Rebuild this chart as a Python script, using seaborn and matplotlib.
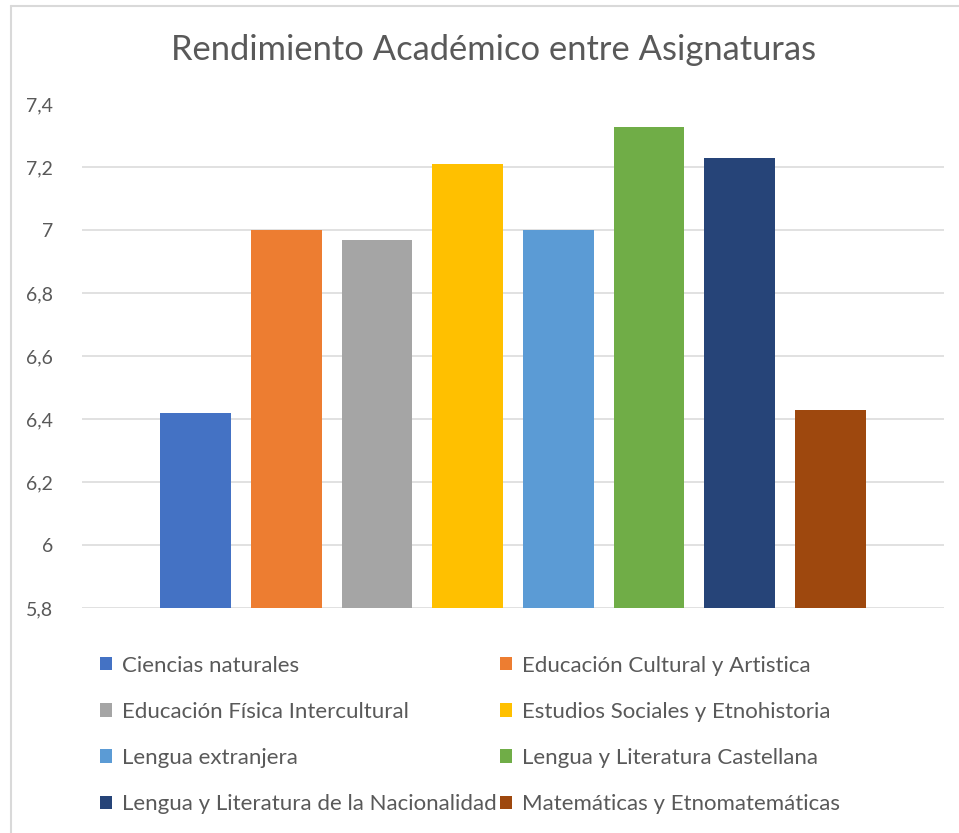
import matplotlib
matplotlib.use("Agg")
import matplotlib.pyplot as plt
from matplotlib.lines import Line2D
import seaborn as sns
import pandas as pd

categories = [
    "Ciencias naturales",
    "Educación Cultural y Artistica",
    "Educación Física Intercultural",
    "Estudios Sociales y Etnohistoria",
    "Lengua extranjera",
    "Lengua y Literatura Castellana",
    "Lengua y Literatura de la Nacionalidad",
    "Matemáticas y Etnomatemáticas",
]
values = [6.42, 7.00, 6.97, 7.21, 7.00, 7.33, 7.23, 6.43]
colors = ["#4472C4", "#ED7D31", "#A5A5A5", "#FFC000",
          "#5B9BD5", "#70AD47", "#264478", "#9E480E"]
yticks = [5.8, 6.0, 6.2, 6.4, 6.6, 6.8, 7.0, 7.2, 7.4]
ytick_labels = ["5,8", "6", "6,2", "6,4", "6,6", "6,8", "7", "7,2", "7,4"]
title = "Rendimiento Académico entre Asignaturas"

sns.set_theme(style="white")
plt.rcParams["font.family"] = ["Lato", "DejaVu Sans"]

W, H = 959, 833
fig = plt.figure(figsize=(W / 100, H / 100), dpi=100)
fig.patch.set_facecolor("white")

ax_left, ax_right = 82, 944
ax_top, ax_bottom = 104.5, 608.3
ax = fig.add_axes([ax_left / W, 1 - ax_bottom / H,
                   (ax_right - ax_left) / W, (ax_bottom - ax_top) / H])

df = pd.DataFrame({"asignatura": categories, "promedio": values})
sns.barplot(data=df, x="asignatura", y="promedio", hue="asignatura",
            palette=colors, width=0.78, legend=False, ax=ax,
            saturation=1, linewidth=0)

ax.set_ylim(5.8, 7.4)
ax.set_xlim(-1.25, len(categories) - 1 + 1.25)
ax.set_yticks(yticks)
ax.set_yticklabels(ytick_labels)
ax.set_xticks([])
ax.set_xlabel("")
ax.set_ylabel("")
ax.grid(axis="y", color="#D9D9D9", linewidth=1.1)
ax.set_axisbelow(True)
for s in ax.spines.values():
    s.set_visible(False)
ax.tick_params(axis="y", length=0, pad=21, labelsize=14, labelcolor="#595959")

# chart frame (Excel chart area border)
fig.add_artist(Line2D([11 / W, 1.0], [1 - 6 / H, 1 - 6 / H], color="#D9D9D9",
                      linewidth=1.5, transform=fig.transFigure))
fig.add_artist(Line2D([11 / W, 11 / W], [0.0, 1 - 6 / H], color="#D9D9D9",
                      linewidth=1.5, transform=fig.transFigure))

fig.text(493.5 / W, 1 - 60 / H, title, ha="center", va="baseline",
         fontsize=24.8, color="#595959")

handles = list(ax.patches)[:len(categories)]
legend_kw = dict(frameon=False, fontsize=16, handlelength=0.55, handleheight=0.55,
                 handletextpad=0.42, labelspacing=1.18, borderpad=0, borderaxespad=0,
                 labelcolor="#595959", loc="upper left")
col1 = [0, 2, 4, 6]
col2 = [1, 3, 5, 7]
leg1 = fig.legend([handles[i] for i in col1], [categories[i] for i in col1],
                  bbox_to_anchor=(100 / W, 1 - 655.5 / H), **legend_kw)
leg2 = fig.legend([handles[i] for i in col2], [categories[i] for i in col2],
                  bbox_to_anchor=(500 / W, 1 - 655.5 / H), **legend_kw)

fig.savefig("out.png", dpi=100, facecolor="white")
